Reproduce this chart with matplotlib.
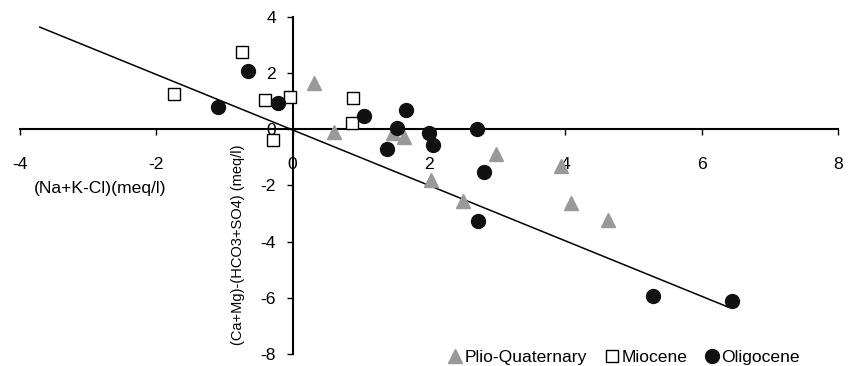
import numpy as np
import matplotlib
matplotlib.use("Agg")
import matplotlib.pyplot as plt

plt.rcParams['font.family'] = ['Liberation Sans', 'DejaVu Sans']
plt.rcParams['axes.unicode_minus'] = False

# Plio-Quaternary (grey triangles)
plio_x = [0.31, 0.60, 1.47, 1.63, 2.03, 2.50, 2.99, 3.94, 4.08, 4.63]
plio_y = [1.64, -0.11, -0.14, -0.29, -1.82, -2.54, -0.89, -1.29, -2.63, -3.22]

# Miocene (open squares)
mio_x = [-1.74, -0.74, -0.40, -0.04, -0.29, 0.88, 0.87]
mio_y = [1.25, 2.75, 1.04, 1.14, -0.39, 1.11, 0.21]

# Oligocene (black circles)
oli_x = [-1.10, -0.65, -0.22, 1.04, 1.66, 1.53, 1.38, 2.00, 2.06, 2.71, 2.81, 2.72, 5.29, 6.44]
oli_y = [0.79, 2.07, 0.93, 0.46, 0.68, 0.04, -0.71, -0.14, -0.57, 0.00, -1.53, -3.25, -5.93, -6.11]

# trend line end points
line_x = [-3.71, 6.38]
line_y = [3.64, -6.32]

x_ticks = [-4, -2, 0, 2, 4, 6, 8]
y_ticks = [-8, -6, -4, -2, 0, 2, 4]

fig = plt.figure(figsize=(8.56, 3.66), dpi=100)
ax = fig.add_axes([20 / 856, 1 - 354 / 366, (838 - 20) / 856, (354 - 17) / 366])

ax.plot(line_x, line_y, color='black', lw=1.1, zorder=2)

ax.plot(plio_x, plio_y, '^', color='#999999', markersize=10, ls='none',
        label='Plio-Quaternary', zorder=4, clip_on=False)
ax.plot(mio_x, mio_y, 's', mfc='white', mec='black', mew=1.0, markersize=8.5, ls='none',
        label='Miocene', zorder=4, clip_on=False)
ax.plot(oli_x, oli_y, 'o', color='#111111', markersize=10, ls='none',
        label='Oligocene', zorder=5, clip_on=False)

ax.set_xlim(-4, 8)
ax.set_ylim(-8, 4)
ax.set_xticks(x_ticks)
ax.set_yticks(y_ticks)

ax.spines['left'].set_position(('data', 0))
ax.spines['bottom'].set_position(('data', 0))
ax.spines['top'].set_visible(False)
ax.spines['right'].set_visible(False)
for s in ['left', 'bottom']:
    ax.spines[s].set_linewidth(1.5)
    ax.spines[s].set_zorder(3)

ax.tick_params(axis='x', direction='out', length=4, width=1, pad=16, labelsize=12.6)
ax.tick_params(axis='y', direction='out', length=4, width=1, pad=8, labelsize=12.6)
ax.patch.set_visible(False)

fig.text(100 / 856, 1 - 188 / 366, '(Na+K-Cl)(meq/l)', fontsize=12.6,
         ha='center', va='center')
fig.text(238 / 856, 1 - 245 / 366, '(Ca+Mg)-(HCO3+SO4) (meq/l)', fontsize=10.5,
         ha='center', va='center', rotation=90)

fig.legend(loc='center', bbox_to_anchor=(624 / 856, 1 - 357 / 366), ncol=3,
           frameon=False, fontsize=12.6, handlelength=0.8, handletextpad=0.15,
           columnspacing=1.0, borderpad=0, borderaxespad=0)

fig.savefig('out.png', dpi=100)
